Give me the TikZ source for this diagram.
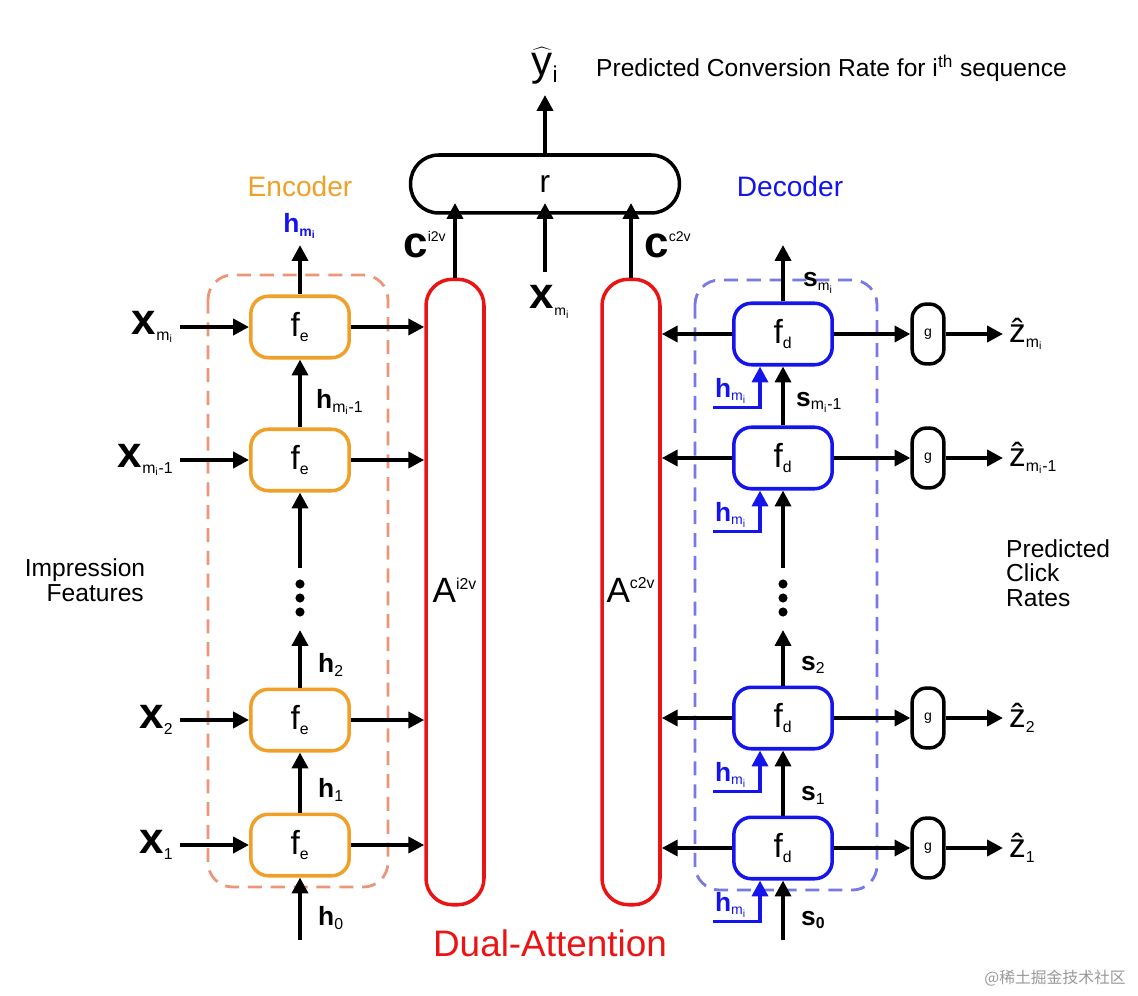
\documentclass[tikz,border=0pt]{standalone}
\usepackage{fontspec}
\setmainfont{Liberation Sans}
\newfontfamily\cjk{Noto Sans CJK SC}
\usetikzlibrary{arrows.meta}
\definecolor{enc}{RGB}{240,160,40}
\definecolor{encd}{RGB}{235,150,120}
\definecolor{dec}{RGB}{20,20,235}
\definecolor{decd}{RGB}{120,120,230}
\definecolor{att}{RGB}{235,20,20}
\newcommand{\fsz}[1]{\fontsize{#1}{#1}\selectfont}
\newcommand{\vdts}[1]{\foreach \dy in {-14,0,14}{\fill (#1) ++(0,\dy) circle (2.6pt);}}
\begin{document}
\begin{tikzpicture}[x=0.02cm,y=-0.02cm,
  arr/.style={-{Triangle[length=9pt,width=9pt]},line width=2.2pt},
  fe/.style={draw=enc,line width=2pt,rounded corners=10pt,minimum width=56pt,minimum height=35pt,inner sep=0pt,font=\fsz{19}},
  fd/.style={draw=dec,line width=2pt,rounded corners=10pt,minimum width=56pt,minimum height=35pt,inner sep=0pt,font=\fsz{19}},
  gb/.style={draw,line width=2pt,rounded corners=8pt,minimum width=18pt,minimum height=34pt,inner sep=0pt,font=\fsz{8}},
  att/.style={draw=att,line width=2pt,rounded corners=15pt,minimum width=33pt,minimum height=356pt,inner sep=0pt},
  xl/.style={font=\fsz{25}\bfseries,line width=0.6pt,text=black},
  hl/.style={font=\fsz{15}\bfseries},
  lab/.style={font=\fsz{14}}]
\useasboundingbox (0,0) rectangle (1138,996);
% dashed groups
\draw[encd,line width=1.6pt,dash pattern=on 8pt off 5pt,rounded corners=14pt] (208,275) rectangle (388,887);
\draw[decd,line width=1.6pt,dash pattern=on 8pt off 5pt,rounded corners=14pt] (695,280) rectangle (877,890);
\node[font=\fsz{16},text=enc] (enc) at (300,186) {Encoder};
\node[font=\fsz{16},text=dec] (decl) at (790,186) {Decoder};
% encoder boxes
\node[fe] (e4) at (300,327) {f\textsubscript{\fsz{9}e}};
\node[fe] (e3) at (300,460) {f\textsubscript{\fsz{9}e}};
\node[fe] (e2) at (300,720) {f\textsubscript{\fsz{9}e}};
\node[fe] (e1) at (300,845) {f\textsubscript{\fsz{9}e}};
\coordinate (edots) at (300,598);
\vdts{edots}
% attention
\node[att] (ai) at (455,592) {};
\node[att] (ac) at (631,592) {};
\node[font=\fsz{20}] at (455,590) {A\textsuperscript{\fsz{9}i2v}};
\node[font=\fsz{20}] at (631,590) {A\textsuperscript{\fsz{9}c2v}};
\node[font=\fsz{21},text=att] (dual) at (550,943) {Dual-Attention};
% r
\node[draw,line width=2pt,rounded corners=16pt,minimum width=153pt,minimum height=33pt,font=\fsz{18}] (r) at (545,184) {r};
\node[font=\fsz{24}] (y) at (545,66) {$\widehat{\mathrm{y}}$\textsubscript{\fsz{13}i}};
\node[lab,anchor=west] (pcr) at (590,68) {Predicted Conversion Rate for i\textsuperscript{th} sequence};
\draw[arr] (r.north) -- (545,95);
\node[xl] (xm) at (550,302) {x\textsubscript{\fsz{8}\mdseries m\textsubscript{i}}};
\coordinate (cxm) at (545,272);
\draw[arr] (cxm) -- (545,203);
\draw[arr] (ai.north) -- (455,203);
\draw[arr] (ac.north) -- (631,203);
\node[xl] at (425,245) {c\textsuperscript{\fsz{8}\mdseries i2v}};
\node[xl] at (668,245) {c\textsuperscript{\fsz{8}\mdseries c2v}};
% encoder inputs
\foreach \n/\yy/\t in {4/327/{m\textsubscript{i}},3/460/{m\textsubscript{i}-1},2/720/2,1/845/1}{
  \node[xl,anchor=east] (xi\n) at (180,\yy) {x\textsubscript{\fsz{9}\mdseries\t}};
  \draw[arr] (180,\yy) -- (e\n.west);
  \draw[arr] (e\n.east) -- (ai.west |- e\n.east);
}
% encoder vertical
\node[hl,text=dec] (hmt) at (300,226) {h\textsubscript{\fsz{8}m\textsubscript{i}}};
\draw[arr] (e4.north) -- (hmt.south);
\draw[arr] (e3.north) -- (e4.south);
\node[hl,anchor=west] at (310,402) {h\textsubscript{\fsz{9}\mdseries m\textsubscript{i}-1}};
\draw[arr] (300,568) -- (e3.south);
\draw[arr] (e2.north) -- (300,630);
\node[hl,anchor=west] at (312,665) {h\textsubscript{\fsz{9}\mdseries 2}};
\draw[arr] (e1.north) -- (e2.south);
\node[hl,anchor=west] at (312,790) {h\textsubscript{\fsz{9}\mdseries 1}};
\coordinate (h0s) at (300,940);
\draw[arr] (h0s) -- (e1.south);
\node[hl,anchor=west] at (312,918) {h\textsubscript{\fsz{9}\mdseries 0}};
\node[lab,align=center] (imp) at (85,580) {Impression\\\ \ \ Features};
% decoder boxes
\node[fd] (d4) at (783,334) {f\textsubscript{\fsz{9}d}};
\node[fd] (d3) at (783,458) {f\textsubscript{\fsz{9}d}};
\node[fd] (d2) at (783,718) {f\textsubscript{\fsz{9}d}};
\node[fd] (d1) at (783,848) {f\textsubscript{\fsz{9}d}};
\coordinate (ddots) at (783,598);
\vdts{ddots}
\foreach \n/\t in {4/{m\textsubscript{i}},3/{m\textsubscript{i}-1},2/2,1/1}{
  \draw[arr] (d\n.west) -- (ac.east |- d\n.west);
  \node[gb] (g\n) at (928,0 |- d\n) {g};
  \draw[arr] (d\n.east) -- (g\n.west);
  \node[font=\fsz{19},anchor=west] (z\n) at (1003,0 |- d\n) {\^{z}\textsubscript{\fsz{9}\t}};
  \draw[arr] (g\n.east) -- (z\n.west);
  \coordinate (hs\n) at ([xshift=-70*0.02cm,yshift=-41*0.02cm]d\n.south);
  \draw[dec,line width=2.2pt,-{Triangle[length=9pt,width=9pt]}] (hs\n) -| ([xshift=-23*0.02cm]d\n.south);
  \node[hl,text=dec,anchor=south west,inner sep=1pt] at ([yshift=1pt]hs\n) {h\textsubscript{\fsz{8}\mdseries m\textsubscript{i}}};
}
\coordinate (stop) at (783,245);
\draw[arr] (d4.north) -- (stop);
\node[hl,anchor=west] at (797,283) {s\textsubscript{\fsz{8}\mdseries m\textsubscript{i}}};
\draw[arr] (d3.north) -- (d4.south);
\node[hl,anchor=west] at (790,402) {s\textsubscript{\fsz{9}\mdseries m\textsubscript{i}-1}};
\draw[arr] (783,568) -- (d3.south);
\draw[arr] (d2.north) -- (783,630);
\node[hl,anchor=west] at (795,665) {s\textsubscript{\fsz{9}\mdseries 2}};
\draw[arr] (d1.north) -- (d2.south);
\node[hl,anchor=west] at (795,795) {s\textsubscript{\fsz{9}\mdseries 1}};
\coordinate (s0s) at (783,940);
\draw[arr] (s0s) -- (d1.south);
\node[hl,anchor=west] at (795,920) {s\textsubscript{\fsz{9}0}};
\node[lab,align=left,anchor=west] (pcr2) at (1000,573) {Predicted\\Click\\Rates};
\node[font=\cjk\fsz{9},text=black!40,anchor=east] (wm) at (1132,978) {@稀土掘金技术社区};
\end{tikzpicture}
\end{document}
